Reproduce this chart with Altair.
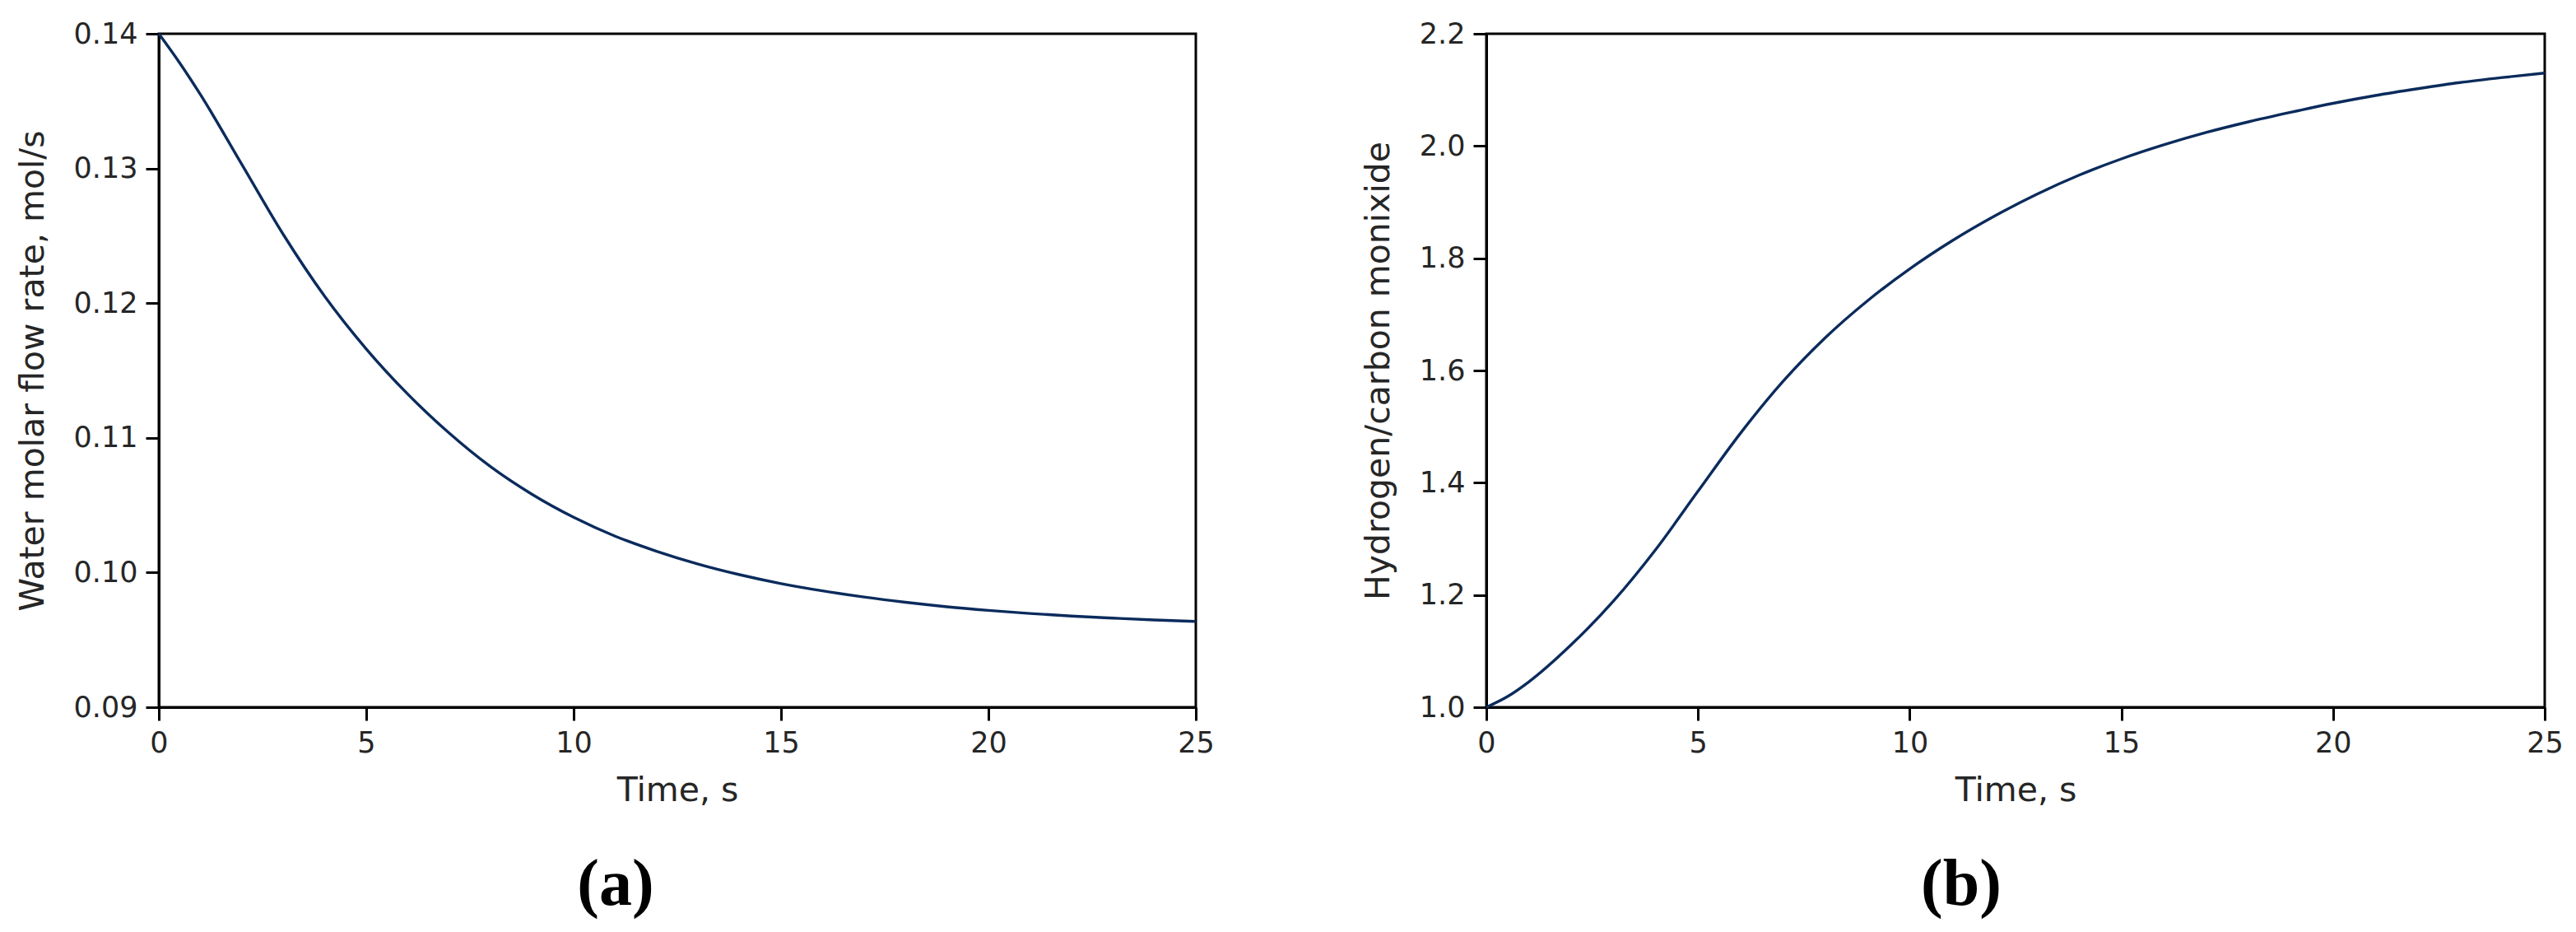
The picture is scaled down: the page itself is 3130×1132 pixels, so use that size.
import altair as alt
import pandas as pd

# ---- data ----
time_a = [0, 0.5, 1, 2, 3, 4, 5, 6, 7, 8, 9, 10, 11, 12, 13,
          14, 15, 16, 17, 18, 19, 20, 21, 22, 23, 24, 25]
water_flow = [0.14000, 0.13785, 0.13550, 0.13030, 0.12510, 0.12050, 0.11660,
              0.11325, 0.11035, 0.10785, 0.10580, 0.10410, 0.10270, 0.10158,
              0.10063, 0.09984, 0.09918, 0.09864, 0.09818, 0.09779, 0.09746,
              0.09719, 0.09696, 0.09677, 0.09662, 0.09648, 0.09637]

time_b = [0, 0.5, 1, 2, 3, 4, 5, 6, 7, 8, 9, 10, 11, 12, 13, 14, 15, 16, 17,
          18, 19, 20, 21, 22, 23, 24, 25]
h2_co = [1.000, 1.019, 1.045, 1.111, 1.189, 1.281, 1.385, 1.488, 1.580, 1.658,
         1.724, 1.781, 1.831, 1.875, 1.914, 1.948, 1.977, 2.002, 2.024, 2.043,
         2.060, 2.076, 2.090, 2.102, 2.113, 2.122, 2.130]

x_ticks = [0, 5, 10, 15, 20, 25]
y_ticks_a = [0.09, 0.10, 0.11, 0.12, 0.13, 0.14]
y_ticks_b = [1.0, 1.2, 1.4, 1.6, 1.8, 2.0, 2.2]

LINE = "#0b2b5c"
TXT = "#262626"


def panel(times, vals, width, ydom, yticks, yfmt, ytitle, label, dx):
    df = pd.DataFrame({"t": times, "v": vals})
    return (
        alt.Chart(df)
        .mark_line(color=LINE, strokeWidth=3.4, interpolate="monotone")
        .encode(
            x=alt.X("t:Q",
                    scale=alt.Scale(domain=[0, 25], nice=False, zero=False),
                    axis=alt.Axis(values=x_ticks, format="d", title="Time, s")),
            y=alt.Y("v:Q",
                    scale=alt.Scale(domain=ydom, nice=False, zero=False),
                    axis=alt.Axis(values=yticks, format=yfmt, title=ytitle)),
        )
        .properties(
            width=width,
            height=818,
            title=alt.TitleParams(
                label, orient="bottom", frame="group", anchor="middle",
                dx=dx, offset=56, font="Liberation Serif", fontSize=80,
                fontWeight="bold", color="black",
            ),
        )
    )


left = panel(time_a, water_flow, 1260, [0.09, 0.14], y_ticks_a, ".2f",
             "Water molar flow rate, mol/s", "(a)", -75)
right = panel(time_b, h2_co, 1286, [1.0, 2.2], y_ticks_b, ".1f",
              "Hydrogen/carbon monixide", "(b)", -66)

chart = (
    alt.hconcat(left, right, spacing=353, bounds="flush")
    .properties(padding={"left": 9, "top": 14, "right": 0, "bottom": 0})
    .configure_view(stroke="black", strokeWidth=3)
    .configure_axis(
        grid=False,
        labelFlush=False,
        domainColor="black", domainWidth=3,
        tickColor="black", tickWidth=3, tickSize=16,
        labelFont="DejaVu Sans", labelFontSize=35, labelColor=TXT,
        labelPadding=10,
        titleFont="DejaVu Sans", titleFontSize=41, titleFontWeight="normal",
        titleColor=TXT,
    )
    .configure_axisX(titlePadding=20)
    .configure_axisY(titlePadding=28)
)

chart.save("out.html", embed_options={"renderer": "svg", "actions": False})
